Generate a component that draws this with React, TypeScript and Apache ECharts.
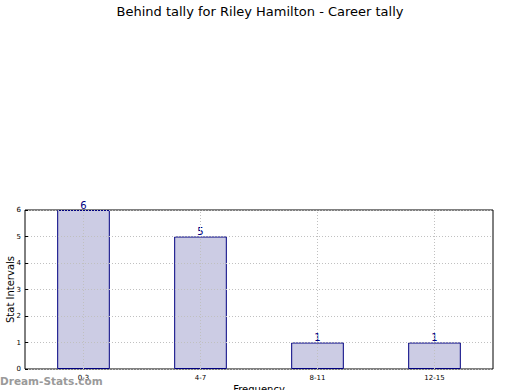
import React, { useEffect, useRef } from "react";
import * as echarts from "echarts";

const categories = ["0-3", "4-7", "8-11", "12-15"];
const values = [6, 5, 1, 1];
const yTicks = [0, 1, 2, 3, 4, 5, 6];

export default function App() {
  const ref = useRef<HTMLDivElement>(null);
  useEffect(() => {
    const chart = echarts.init(ref.current!, null, { renderer: "svg" });
    const font = "DejaVu Sans";
    chart.setOption({
      animation: false,
      textStyle: { fontFamily: font },
      title: {
        text: "Behind tally for Riley Hamilton - Career tally",
        left: "center",
        top: 0,
        textStyle: { fontFamily: font, fontSize: 13, fontWeight: "normal", color: "#000" },
      },
      grid: {
        left: 25,
        top: 210,
        width: 468,
        height: 159,
        show: true,
        borderColor: "#000",
        borderWidth: 1,
        backgroundColor: "transparent",
        outerBoundsMode: "none",
        containLabel: false,
      },
      graphic: [
        {
          type: "text",
          left: 0,
          top: 375,
          style: {
            text: "Dream-Stats.com",
            fill: "#9a9a9a",
            font: "bold 10.5px DejaVu Sans",
          },
          z: 100,
        },
      ],
      xAxis: {
        type: "category",
        data: categories,
        boundaryGap: true,
        name: "Frequency",
        nameLocation: "middle",
        nameGap: 15,
        nameMoveOverlap: false,
        nameTextStyle: { fontFamily: font, fontSize: 10, color: "#000" },
        axisLine: { show: false },
        axisTick: { show: false },
        axisLabel: { fontFamily: font, fontSize: 7, color: "#000", margin: 5 },
        splitLine: { show: false },
      },
      yAxis: {
        type: "value",
        min: 0,
        max: yTicks[yTicks.length - 1],
        interval: 1,
        z: 10,
        name: "Stat Intervals",
        nameLocation: "middle",
        nameGap: 10,
        nameMoveOverlap: false,
        nameTextStyle: { fontFamily: font, fontSize: 10, color: "#000" },
        axisLine: { show: false },
        axisTick: { show: true, inside: true, length: 3, lineStyle: { color: "#000" } },
        axisLabel: { fontFamily: font, fontSize: 7, color: "#000", margin: 4 },
        splitLine: {
          show: true,
          lineStyle: { color: "#c0c0c0", type: [1, 2], width: 1 },
        },
      },
      series: [
        {
          type: "bar",
          data: values,
          barWidth: "45%",
          itemStyle: { color: "#ccccE4", borderColor: "#000080", borderWidth: 1 },
          label: {
            show: true,
            position: "top",
            distance: 0,
            fontFamily: font,
            fontSize: 10,
            color: "#000080",
          },
          markLine: {
            silent: true,
            symbol: "none",
            label: { show: false },
            lineStyle: { color: "#c0c0c0", type: [1, 2], width: 1 },
            data: categories.map((c) => ({ xAxis: c })),
            z: 5,
          },
        },
      ],
    });
    return () => chart.dispose();
  }, []);
  return <div ref={ref} style={{ width: 520, height: 390, position: "absolute", left: 0, top: 0 }} />;
}
